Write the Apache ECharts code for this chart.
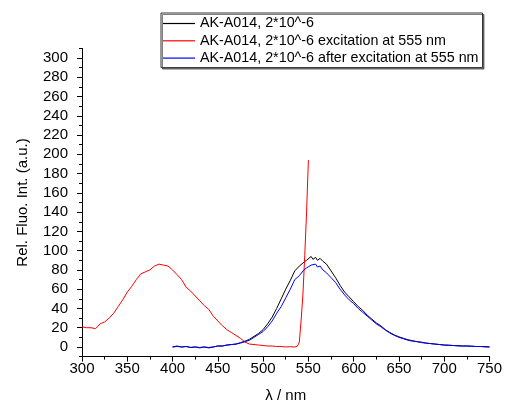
<!DOCTYPE html>
<html>
<head>
<meta charset="utf-8">
<script src="https://cdn.jsdelivr.net/npm/echarts@6/dist/echarts.min.js"></script>
<style>html,body{margin:0;padding:0;background:#fff}#c{width:505px;height:410px}</style>
</head>
<body>
<div id="c"></div>
<script>
var seriesNames = ["AK-A014, 2*10^-6", "AK-A014, 2*10^-6 excitation at 555 nm", "AK-A014, 2*10^-6 after excitation at 555 nm"];
var xTicks = [300, 350, 400, 450, 500, 550, 600, 650, 700, 750];
var yTicks = [0, 20, 40, 60, 80, 100, 120, 140, 160, 180, 200, 220, 240, 260, 280, 300];

var blackX = [400,405,410,415,420,425,430,435,440,445,450,455,460,465,470,475,480,485,490,495,500,505,510,515,520,525,530,535,540,545,548,550,553,555,558,560,563,566,570,575,580,585,590,595,600,605,610,615,620,625,630,635,640,645,650,655,660,665,670,675,680,685,690,695,700,705,710,715,720,725,730,735,740,745,750];
var blackY = [0,1,0,0.5,-0.5,0,-0.5,0,-1,0,1,1,2,2.5,3,4.5,6,8,11,14,18,24,31,40,50,60,69,79,84,88,90,91,94,91,93,90,92,89,86,79,72,64,57,52,47,42,38,33,29,25,22,18,15,12.5,10.5,9,7.5,6.5,5.5,5,4,3.5,3,2.5,2,2,1.5,1.5,1,1,1,0.5,0.5,0.5,0];

var redX = [300,305,310,315,320,325,330,335,340,345,350,355,360,365,370,375,380,385,390,395,400,405,410,415,420,425,430,435,440,445,450,455,460,465,470,475,480,485,490,495,500,505,510,515,520,525,530,535,538,540,542,544,546,548,550];
var redY = [21,20,20,19,24,26,30,35,42,49,57,63,70,76,78,80,84,86,85,84,80,75,70,62,58,53,48,43,39,32,27,22,18,15,12,9,5,3,2.5,2,1.5,1,1,0.5,0.5,0,0.3,0,1,5,28,55,95,140,194];

var blueX = [400,405,410,415,420,425,430,435,440,445,450,455,460,465,470,475,480,485,490,495,500,505,510,515,520,525,530,535,540,545,548,550,553,555,558,560,563,566,570,575,580,585,590,595,600,605,610,615,620,625,630,635,640,645,650,655,660,665,670,675,680,685,690,695,700,705,710,715,720,725,730,735,740,745,750];
var blueY = [0,0.5,0,0.5,-0.5,0,-1,0,-0.5,0,1,1,2,2.5,3,4,5.5,7,10,13,16,21,27,35,42,51,60,70,74,80,82,83,85,84,86,83,84,80,77,72,67,60,54,49,45,40,36,32,28,24,21,17.5,14.5,12,10,8.5,7,6,5.5,4.5,4,3.5,3,2.5,2,1.5,1.5,1,1,1,0.5,0.5,0.5,0,0];

function pairs(xs, ys){ var out=[]; for (var i=0;i<xs.length;i++) out.push([xs[i], ys[i]]); return out; }
var yMinor = [];
for (var v = -10; v <= 310; v += 20) yMinor.push(v);

var FONT = "'Liberation Sans', Arial, sans-serif";
var chart = echarts.init(document.getElementById('c'), null, {renderer:'canvas'});
chart.setOption({
  animation: false,
  backgroundColor: '#fff',
  textStyle: {fontFamily: FONT},
  grid: {left: 82, right: 15, top: 48.4, bottom: 53.4, containLabel: false},
  legend: {
    orient: 'vertical', left: 161, top: 13,
    padding: [3, 4, 2, 2], itemGap: 2.3,
    borderColor: '#333', borderWidth: 1, backgroundColor: '#fff',
    shadowColor: 'rgba(0,0,0,0.5)', shadowOffsetX: 1.5, shadowOffsetY: 1.5, shadowBlur: 0,
    icon: 'rect', itemWidth: 32, itemHeight: 1.2,
    textStyle: {fontFamily: FONT, fontSize: 14.3, color: '#000', lineHeight: 15},
    data: seriesNames
  },
  xAxis: {
    type: 'value', min: 300, max: 750, interval: 50,
    name: 'λ / nm', nameLocation: 'middle', nameGap: 32,
    nameTextStyle: {fontFamily: FONT, fontSize: 15, color: '#000'},
    axisLine: {show: true, onZero: false, lineStyle: {color: '#000', width: 1}},
    axisTick: {show: true, inside: false, length: 5, lineStyle: {color: '#000'}},
    minorTick: {show: true, splitNumber: 2, length: 3, lineStyle: {color: '#000'}},
    axisLabel: {fontFamily: FONT, fontSize: 15, color: '#000', margin: 5},
    splitLine: {show: false}, minorSplitLine: {show: false}
  },
  yAxis: [{
    type: 'value', min: -10, max: 310,
    name: 'Rel. Fluo. Int. (a.u.)', nameLocation: 'middle', nameGap: 52, nameRotate: 90,
    nameTextStyle: {fontFamily: FONT, fontSize: 15, color: '#000'},
    axisLine: {show: true, onZero: false, lineStyle: {color: '#000', width: 1}},
    axisTick: {show: true, inside: false, length: 5, customValues: yTicks, lineStyle: {color: '#000'}},
    axisLabel: {fontFamily: FONT, fontSize: 15, color: '#000', margin: 14, customValues: yTicks},
    splitLine: {show: false}
  }, {
    type: 'value', min: -10, max: 310, position: 'left',
    axisLine: {show: false},
    axisTick: {show: true, inside: false, length: 3, customValues: yMinor, lineStyle: {color: '#000'}},
    axisLabel: {show: false, customValues: yMinor},
    splitLine: {show: false}
  }],
  series: [
    {name: seriesNames[0], type: 'line', data: pairs(blackX, blackY), showSymbol: false, symbol: 'none', color: '#000000', lineStyle: {width: 1, color: '#000000'}, z: 2},
    {name: seriesNames[1], type: 'line', data: pairs(redX, redY), showSymbol: false, symbol: 'none', color: '#ff0000', lineStyle: {width: 1, color: '#ff0000'}, z: 3},
    {name: seriesNames[2], type: 'line', data: pairs(blueX, blueY), showSymbol: false, symbol: 'none', color: '#0000ff', lineStyle: {width: 1, color: '#0000ff'}, z: 4}
  ]
});
</script>
</body>
</html>
